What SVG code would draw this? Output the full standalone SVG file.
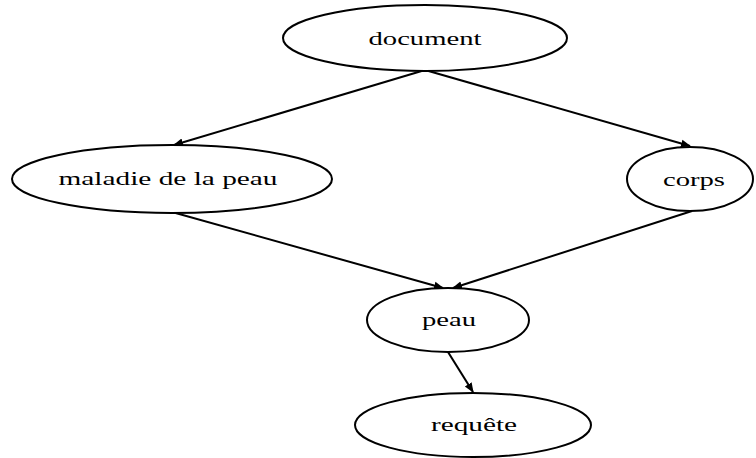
<svg xmlns="http://www.w3.org/2000/svg" width="756" height="458" viewBox="0 0 756 458">
<style>
.n ellipse{fill:#fff;stroke:#000;stroke-width:2}
.n text{font-family:"Liberation Serif",serif;font-size:19px;text-anchor:middle;fill:#000}
.e line{stroke:#000;stroke-width:2;marker-end:url(#a)}
</style>
<defs>
<marker id="a" viewBox="0 0 10 10" refX="9" refY="5" markerWidth="5" markerHeight="5" orient="auto" markerUnits="strokeWidth">
<path d="M0,1 L10,5 L0,9 z" fill="#000"/>
</marker>
</defs>
<rect width="756" height="458" fill="#fff"/>
<g id="edges" class="e">
<line x1="425" y1="70" x2="174" y2="145"/>
<line x1="425" y1="70" x2="690" y2="146"/>
<line x1="172" y1="212" x2="443" y2="288"/>
<line x1="692" y1="211" x2="453" y2="288"/>
<line x1="448" y1="352" x2="473" y2="392"/>
</g>
<g id="document" class="n"><ellipse cx="425" cy="38" rx="142" ry="33"/><text x="425" y="45" textLength="113" lengthAdjust="spacingAndGlyphs">document</text></g>
<g id="maladie" class="n"><ellipse cx="172" cy="179" rx="160" ry="34"/><text x="168" y="185" textLength="219" lengthAdjust="spacingAndGlyphs">maladie de la peau</text></g>
<g id="corps" class="n"><ellipse cx="690" cy="179" rx="63" ry="32"/><text x="694" y="186" textLength="62" lengthAdjust="spacingAndGlyphs">corps</text></g>
<g id="peau" class="n"><ellipse cx="448" cy="320" rx="81" ry="32"/><text x="449" y="326" textLength="54" lengthAdjust="spacingAndGlyphs">peau</text></g>
<g id="requete" class="n"><ellipse cx="473" cy="425" rx="118" ry="32"/><text x="474" y="431" textLength="86" lengthAdjust="spacingAndGlyphs">requête</text></g>
</svg>
